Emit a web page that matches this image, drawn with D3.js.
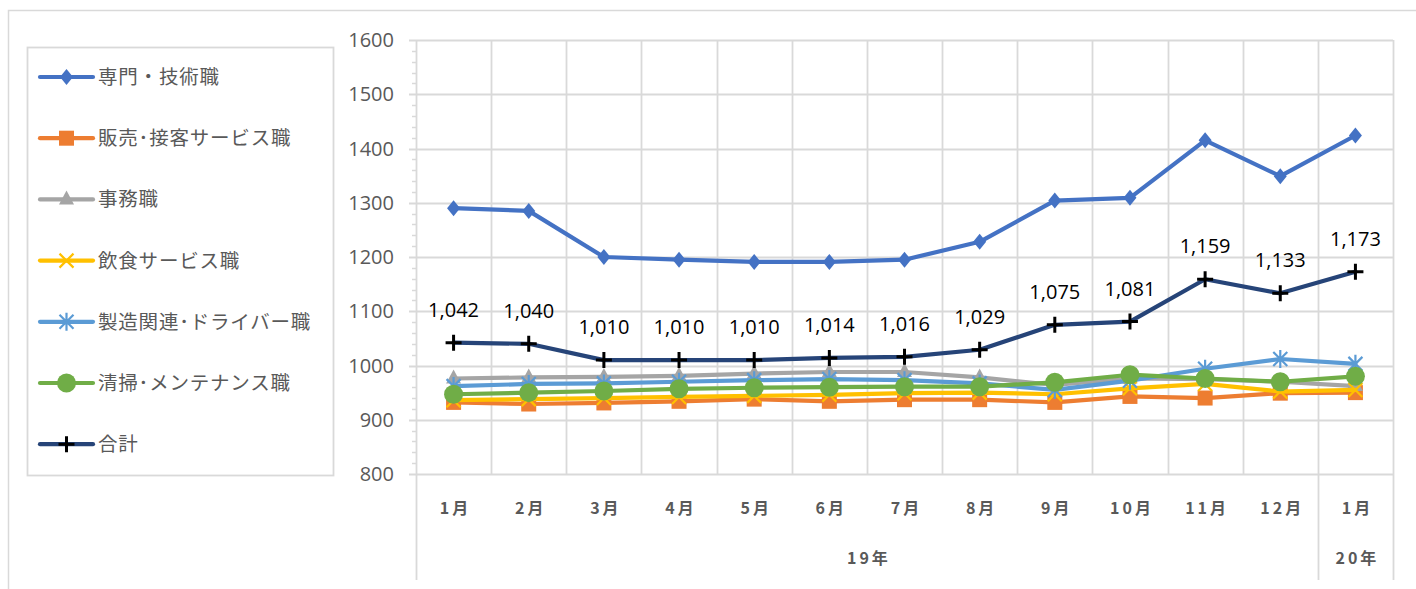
<!DOCTYPE html>
<html><head><meta charset="utf-8">
<script src="https://cdn.jsdelivr.net/npm/d3@7"></script>
<style>
body { margin: 0; background: #fff; }
svg text { font-family: "Noto Sans CJK JP", "Noto Sans", sans-serif; }
.ylab { font-size: 20px; fill: #595959; font-family: "Open Sans", "Noto Sans", sans-serif; }
.leg { font-size: 19.5px; fill: #595959; letter-spacing: 0.8px; }
.xlab { font-size: 16px; font-weight: bold; fill: #595959; letter-spacing: 3px; }
.dlab { font-size: 20px; fill: #000; font-family: "Open Sans", "Noto Sans", sans-serif; }
</style></head><body>
<svg id="chart" width="1416" height="589"></svg>
<script>
const months = ["1月","2月","3月","4月","5月","6月","7月","8月","9月","10月","11月","12月","1月"];
const years = [{label: "19年", from: 0, to: 11}, {label: "20年", from: 12, to: 12}];
const yTicks = [800, 900, 1000, 1100, 1200, 1300, 1400, 1500, 1600];

const senmon  = [1290, 1285, 1200, 1195, 1191, 1191, 1195, 1228, 1304, 1309, 1415, 1349, 1424];
const hanbai  = [932, 929, 931, 934, 938, 934, 937, 937, 932, 943, 940, 949, 950];
const jimu    = [976, 978, 979, 981, 985, 988, 988, 978, 964, 976, 975, 970, 962];
const inshoku = [936, 938, 940, 942, 944, 946, 949, 950, 947, 958, 966, 952, 955];
const seizo   = [962, 966, 967, 970, 973, 975, 973, 967, 955, 972, 994, 1012, 1003];
const seiso   = [947, 950, 953, 957, 959, 960, 961, 961, 969, 983, 976, 970, 980];
const gokei   = [1042, 1040, 1010, 1010, 1010, 1014, 1016, 1029, 1075, 1081, 1159, 1133, 1173];

const series = [
  {name: "専門・技術職", values: senmon, color: "#4472C4", marker: "diamond"},
  {name: "販売･接客サービス職", values: hanbai, color: "#ED7D31", marker: "square"},
  {name: "事務職", values: jimu, color: "#A5A5A5", marker: "triangle"},
  {name: "飲食サービス職", values: inshoku, color: "#FFC000", marker: "x"},
  {name: "製造関連･ドライバー職", values: seizo, color: "#5B9BD5", marker: "star"},
  {name: "清掃･メンテナンス職", values: seiso, color: "#70AD47", marker: "circle"},
  {name: "合計", values: gokei, color: "#264478", marker: "plus", labels: true}
];

const svg = d3.select("#chart");
const grid = "#d9d9d9";

// outer frame
svg.append("path").attr("d", "M8.5,589 V10.5 H1416").attr("fill", "none").attr("stroke", grid).attr("stroke-width", 1.5);

const x = d3.scaleBand().domain(d3.range(months.length)).range([416, 1393]);
const y = d3.scaleLinear().domain([800, 1600]).range([474, 40]);
const cx = i => x(i) + x.bandwidth() / 2;

// gridlines
svg.append("g").selectAll("line").data(yTicks).join("line")
  .attr("x1", 409).attr("x2", 1393)
  .attr("y1", d => Math.round(y(d)) + 0.5).attr("y2", d => Math.round(y(d)) + 0.5)
  .attr("stroke", grid).attr("stroke-width", 1.8);
svg.append("g").selectAll("line").data(d3.range(1, months.length + 1)).join("line")
  .attr("x1", i => Math.round(x(i) || 1393) + 0.5).attr("x2", i => Math.round(x(i) || 1393) + 0.5)
  .attr("y1", 40).attr("y2", 474)
  .attr("stroke", grid).attr("stroke-width", 1.8);
// y axis line & minor ticks
svg.append("line").attr("x1", 416.5).attr("x2", 416.5).attr("y1", 40).attr("y2", 474)
  .attr("stroke", grid).attr("stroke-width", 1.8);
const minor = d3.range(800, 1600, 20).filter(v => v % 100 !== 0);
svg.append("g").selectAll("line").data(minor).join("line")
  .attr("x1", 412).attr("x2", 416)
  .attr("y1", d => Math.round(y(d)) + 0.5).attr("y2", d => Math.round(y(d)) + 0.5)
  .attr("stroke", grid).attr("stroke-width", 1.5);

svg.append("g").selectAll("text").data(yTicks).join("text")
  .attr("class", "ylab").attr("x", 394).attr("y", d => y(d) + 7)
  .attr("text-anchor", "end").text(d => d);

// category axis: months and years
svg.append("g").selectAll("text").data(months).join("text")
  .attr("class", "xlab").attr("x", (d, i) => cx(i) + 2).attr("y", 514)
  .attr("text-anchor", "middle").text(d => d);
svg.append("g").selectAll("text").data(years).join("text")
  .attr("class", "xlab")
  .attr("x", d => (x(d.from) + x(d.to) + x.bandwidth()) / 2 + 2).attr("y", 564)
  .attr("text-anchor", "middle").text(d => d.label);
const sep = [0, 12, 13].map(i => i < months.length ? x(i) : x(12) + x.bandwidth());
svg.append("g").selectAll("line").data(sep).join("line")
  .attr("x1", d => Math.round(d) + 0.5).attr("x2", d => Math.round(d) + 0.5)
  .attr("y1", 474).attr("y2", 580)
  .attr("stroke", grid).attr("stroke-width", 1.8);

// markers
function drawMarker(g, type, color, px, py) {
  if (type === "diamond") {
    g.append("path").attr("d", `M${px},${py - 8} L${px + 6.5},${py} L${px},${py + 8} L${px - 6.5},${py}Z`)
      .attr("fill", color);
  } else if (type === "square") {
    g.append("rect").attr("x", px - 7.5).attr("y", py - 7.5).attr("width", 15).attr("height", 15)
      .attr("fill", color);
  } else if (type === "triangle") {
    g.append("path").attr("d", `M${px},${py - 9} L${px + 7.5},${py + 5} L${px - 7.5},${py + 5}Z`).attr("fill", color);
  } else if (type === "x") {
    g.append("path").attr("d", `M${px - 7},${py - 7} L${px + 7},${py + 7} M${px + 7},${py - 7} L${px - 7},${py + 7}`)
      .attr("stroke", color).attr("stroke-width", 2.2);
  } else if (type === "star") {
    g.append("path").attr("d", `M${px - 7},${py - 7} L${px + 7},${py + 7} M${px + 7},${py - 7} L${px - 7},${py + 7} M${px},${py - 9} L${px},${py + 9}`)
      .attr("stroke", color).attr("stroke-width", 2.2);
  } else if (type === "circle") {
    g.append("circle").attr("cx", px).attr("cy", py).attr("r", 9.5).attr("fill", color);
  } else if (type === "plus") {
    g.append("path").attr("d", `M${px - 8},${py} L${px + 8},${py} M${px},${py - 8} L${px},${py + 8}`)
      .attr("stroke", "#000").attr("stroke-width", 3);
  }
}

const line = d3.line().x((d, i) => cx(i)).y(d => y(d));
series.forEach(s => {
  const g = svg.append("g");
  g.append("path").attr("d", line(s.values)).attr("fill", "none")
    .attr("stroke", s.color).attr("stroke-width", 4.2).attr("stroke-linejoin", "round").attr("stroke-linecap", "round");
  s.values.forEach((v, i) => drawMarker(g, s.marker, s.color, cx(i), y(v)));
  if (s.labels) {
    g.selectAll("text").data(s.values).join("text")
      .attr("class", "dlab").attr("x", (d, i) => cx(i)).attr("y", d => y(d) - 26)
      .attr("text-anchor", "middle").text(d => d3.format(",")(d));
  }
});

// legend
svg.append("rect").attr("x", 27.5).attr("y", 47.5).attr("width", 306).attr("height", 428)
  .attr("fill", "#fff").attr("stroke", grid).attr("stroke-width", 1.8);
series.forEach((s, k) => {
  const ly = 77 + k * 61.2;
  const g = svg.append("g");
  g.append("line").attr("x1", 40).attr("x2", 93).attr("y1", ly).attr("y2", ly)
    .attr("stroke", s.color).attr("stroke-width", 4.2).attr("stroke-linecap", "round");
  drawMarker(g, s.marker, s.color, 66.5, ly);
  g.append("text").attr("class", "leg").attr("x", 98).attr("y", ly + 7).text(s.name);
});
</script></body></html>
